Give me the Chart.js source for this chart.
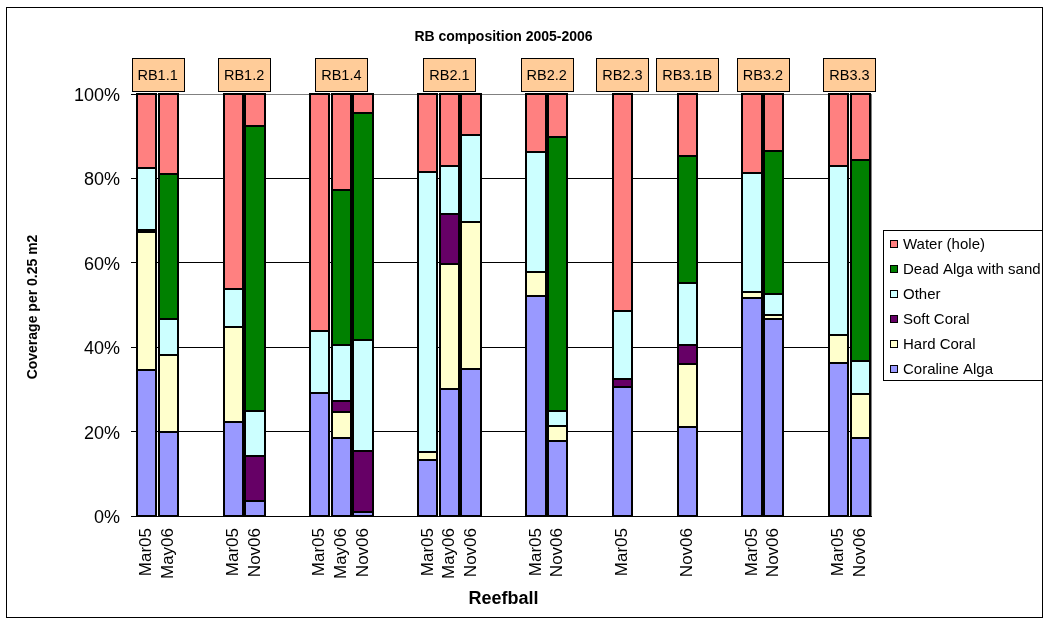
<!DOCTYPE html>
<html>
<head>
<meta charset="utf-8">
<title>RB composition 2005-2006</title>
<script src="https://cdn.jsdelivr.net/npm/chart.js@4.4.1/dist/chart.umd.min.js"></script>
<style>
    body { margin: 0; background: #fff; }
    canvas { display: block; }
</style>
</head>
<body>
<canvas id="rbChart" width="1044" height="624"></canvas>
<script>
// Survey dates per bar slot (blank slots keep the gaps between reefballs)
const categories = ['Mar05', 'May06', '', '', 'Mar05', 'Nov06', '', '', 'Mar05', 'May06', 'Nov06', '', '',
    'Mar05', 'May06', 'Nov06', '', '', 'Mar05', 'Nov06', '', '', 'Mar05', '', '', 'Nov06', '', '',
    'Mar05', 'Nov06', '', '', 'Mar05', 'Nov06'];
const reefballs = ['RB1.1', 'RB1.1', '', '', 'RB1.2', 'RB1.2', '', '', 'RB1.4', 'RB1.4', 'RB1.4', '', '',
    'RB2.1', 'RB2.1', 'RB2.1', '', '', 'RB2.2', 'RB2.2', '', '', 'RB2.3', '', '', 'RB3.1B', '', '',
    'RB3.2', 'RB3.2', '', '', 'RB3.3', 'RB3.3'];

const n = null;
const coralineAlga = [34.7, 19.9, n, n, 22.2, 3.6, n, n, 29.2, 18.5, 0.9, n, n, 13.2, 30.2, 34.8, n, n,
    52.2, 17.7, n, n, 30.6, n, n, 21.1, n, n, 51.6, 46.6, n, n, 36.3, 18.5];
const hardCoral = [32.6, 18.3, n, n, 22.5, n, n, n, n, 6.1, n, n, n, 2.0, 29.6, 34.8, n, n,
    5.7, 3.7, n, n, n, n, n, 14.9, n, n, 1.5, 1.0, n, n, 6.5, 10.3];
const softCoral = [0.5, n, n, n, n, 10.7, n, n, n, 2.7, 14.5, n, n, n, 11.7, n, n, n,
    n, n, n, n, 1.9, n, n, 4.5, n, n, n, n, n, n, n, n];
const other = [14.7, 8.4, n, n, 9.1, 10.6, n, n, 14.6, 13.2, 26.3, n, n, 66.2, 11.4, 20.6, n, n,
    28.4, 3.5, n, n, 16.0, n, n, 14.8, n, n, 28.1, 5.1, n, n, 40.2, 7.9];
const deadAlga = [n, 34.4, n, n, n, 67.6, n, n, n, 36.8, 53.9, n, n, n, n, n, n, n,
    n, 64.9, n, n, n, n, n, 30.0, n, n, n, 33.8, n, n, n, 47.6];
const water = [17.5, 19.0, n, n, 46.2, 7.5, n, n, 56.2, 22.7, 4.4, n, n, 18.6, 17.1, 9.8, n, n,
    13.7, 10.2, n, n, 51.5, n, n, 14.7, n, n, 18.8, 13.5, n, n, 17.0, 15.7];

const yTicks = [0, 20, 40, 60, 80, 100];

const FONT = "'Liberation Sans', Arial, sans-serif";

const series = [
    { label: 'Coraline Alga', data: coralineAlga, color: '#9999FF' },
    { label: 'Hard Coral', data: hardCoral, color: '#FFFFCC' },
    { label: 'Soft Coral', data: softCoral, color: '#660066' },
    { label: 'Other', data: other, color: '#CCFFFF' },
    { label: 'Dead Alga with sand', data: deadAlga, color: '#008000' },
    { label: 'Water (hole)', data: water, color: '#FF8080' }
];

// crisp black outlines round every bar segment (Excel style, shared edges)
const barOutlines = {
    id: 'barOutlines',
    afterDatasetsDraw(chart) {
        const ctx = chart.ctx;
        ctx.save();
        ctx.strokeStyle = '#000';
        ctx.lineWidth = 2;
        chart.data.datasets.forEach((ds, di) => {
            chart.getDatasetMeta(di).data.forEach((bar, i) => {
                if (ds.data[i] == null) return;
                const { x, y, base, width } = bar.getProps(['x', 'y', 'base', 'width'], true);
                const x0 = Math.round(x - width / 2);
                const x1 = Math.round(x + width / 2);
                const y0 = Math.round(Math.min(y, base));
                const y1 = Math.round(Math.max(y, base));
                ctx.strokeRect(x0, y0, x1 - x0, y1 - y0);
            });
        });
        ctx.restore();
    }
};

// titles, reefball boxes, legend and frame drawn on top of the chart
const decorations = {
    id: 'decorations',
    beforeDatasetsDraw(chart) {
        const { ctx, chartArea: a } = chart;
        ctx.save();
        ctx.strokeStyle = '#808080';
        ctx.lineWidth = 1;
        ctx.beginPath();
        ctx.moveTo(Math.round(a.right) + 0.5, a.top);
        ctx.lineTo(Math.round(a.right) + 0.5, a.bottom);
        ctx.stroke();
        ctx.restore();
    },
    afterDraw(chart) {
        const { ctx, chartArea: a, scales } = chart;
        const x = scales.x;
        ctx.save();
        ctx.fillStyle = '#000';

        // chart title
        ctx.font = `bold 14px ${FONT}`;
        ctx.textAlign = 'center';
        ctx.textBaseline = 'middle';
        ctx.fillText('RB composition 2005-2006', (a.left + a.right) / 2, 37);

        // axis titles
        ctx.font = `bold 18px ${FONT}`;
        ctx.fillText('Reefball', (a.left + a.right) / 2, 599);
        ctx.save();
        ctx.translate(33, (a.top + a.bottom) / 2 + 2);
        ctx.rotate(-Math.PI / 2);
        ctx.font = `bold 14px ${FONT}`;
        ctx.fillText('Coverage per 0.25 m2', 0, 0);
        ctx.restore();

        // reefball name boxes above each group
        const groups = {};
        reefballs.forEach((name, i) => {
            if (!name) return;
            (groups[name] = groups[name] || []).push(x.getPixelForValue(i));
        });
        ctx.font = `14.5px ${FONT}`;
        Object.keys(groups).forEach(name => {
            const px = groups[name];
            const cx = px.reduce((s, v) => s + v, 0) / px.length;
            const w = Math.round(ctx.measureText(name).width + 12);
            const left = Math.round(cx - w / 2) + 0.5;
            ctx.fillStyle = '#FFCC99';
            ctx.fillRect(left, 58.5, w, 33);
            ctx.strokeStyle = '#000';
            ctx.lineWidth = 1;
            ctx.strokeRect(left, 58.5, w, 33);
            ctx.fillStyle = '#000';
            ctx.fillText(name, cx, 76);
        });

        // legend
        ctx.fillStyle = '#fff';
        ctx.fillRect(883.5, 230.5, 159, 150);
        ctx.strokeStyle = '#000';
        ctx.strokeRect(883.5, 230.5, 159, 150);
        ctx.font = `15px ${FONT}`;
        ctx.textAlign = 'left';
        const items = chart.data.datasets.slice().reverse();
        items.forEach((ds, i) => {
            const y = 244 + i * 25;
            ctx.fillStyle = ds.backgroundColor;
            ctx.fillRect(890.5, y - 3.5, 7, 7);
            ctx.strokeStyle = '#000';
            ctx.strokeRect(890.5, y - 3.5, 7, 7);
            ctx.fillStyle = '#000';
            ctx.fillText(ds.label, 903, y + 1);
        });

        // outer chart frame
        ctx.strokeStyle = '#000';
        ctx.strokeRect(6.5, 7.5, 1036, 610);
        ctx.restore();
    }
};

new Chart(document.getElementById('rbChart'), {
    type: 'bar',
    data: {
        labels: categories,
        datasets: series.map(s => ({
            label: s.label,
            data: s.data,
            backgroundColor: s.color,
            borderWidth: 0,
            barPercentage: 0.89,
            categoryPercentage: 1
        }))
    },
    options: {
        responsive: false,
        animation: false,
        layout: { padding: { top: 94, right: 173, left: 0, bottom: 0 } },
        plugins: {
            legend: { display: false },
            title: { display: false },
            tooltip: { enabled: false }
        },
        scales: {
            x: {
                stacked: true,
                grid: { display: false, drawTicks: false, tickLength: 0 },
                border: { display: true, color: '#000', width: 1 },
                ticks: {
                    autoSkip: false,
                    maxRotation: 90,
                    minRotation: 90,
                    padding: 12,
                    color: '#000',
                    font: { family: FONT, size: 17 }
                },
                afterFit(scale) { scale.height = 108; }
            },
            y: {
                stacked: true,
                min: 0,
                max: 100,
                afterBuildTicks(scale) { scale.ticks = yTicks.map(v => ({ value: v })); },
                ticks: {
                    callback: v => v + '%',
                    padding: 11,
                    labelOffset: 2,
                    color: '#000',
                    font: { family: FONT, size: 18 }
                },
                grid: {
                    color: c => (c.tick && c.tick.value === 100 ? '#808080' : '#000'),
                    tickColor: '#000',
                    tickLength: 5
                },
                border: { color: '#000' },
                afterFit(scale) { scale.width = 136; }
            }
        }
    },
    plugins: [barOutlines, decorations]
});
</script>
</body>
</html>
